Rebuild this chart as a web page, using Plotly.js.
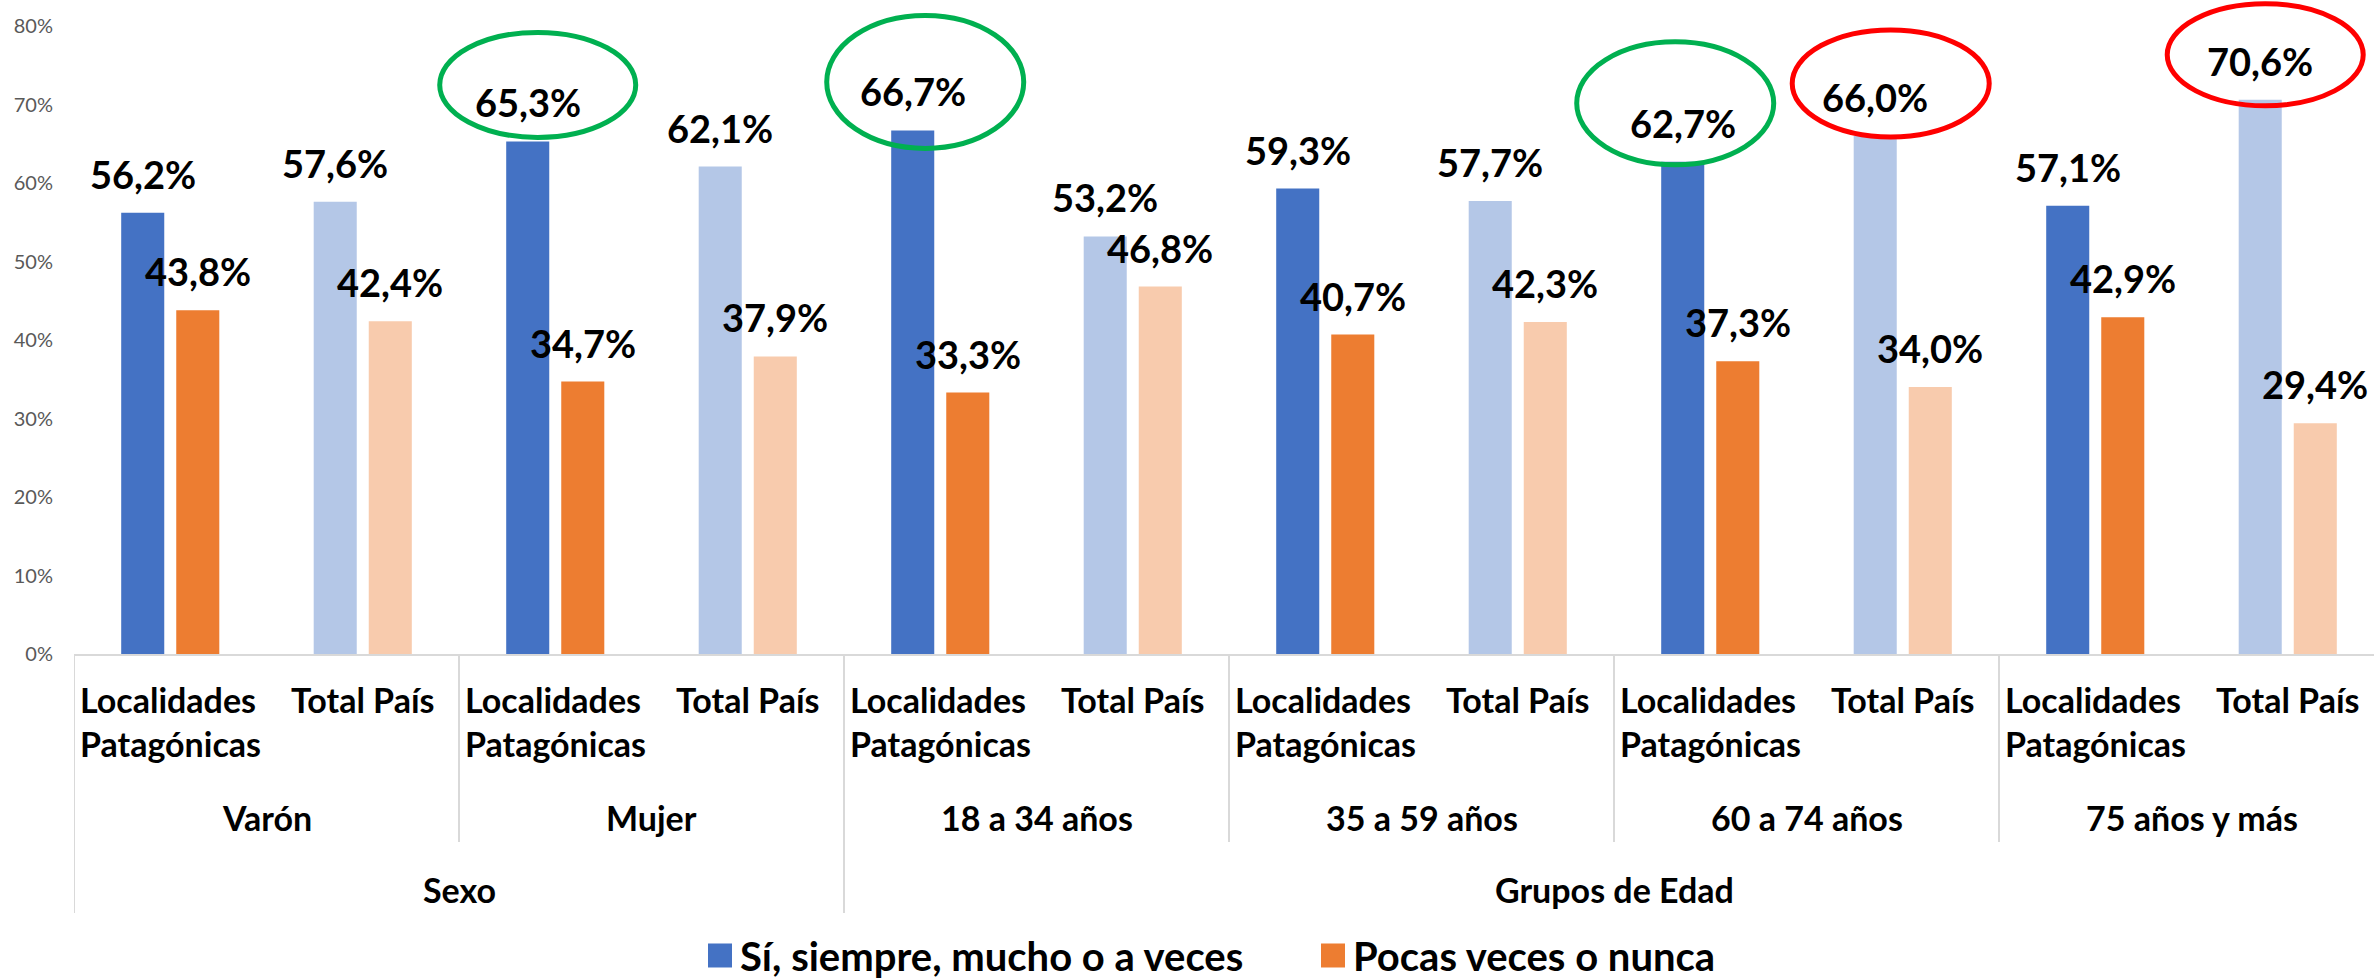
<!DOCTYPE html>
<html>
<head>
<meta charset="utf-8">
<script src="https://cdn.plot.ly/plotly-3.0.1.min.js"></script>
<style>
html, body { margin: 0; padding: 0; overflow: hidden; background: #ffffff; }
#chart { width: 2400px; height: 980px; }
</style>
</head>
<body>
<div id="chart"></div>
<script>
// ---------------- data ----------------
const subCategories = [
  'Localidades<br>Patagónicas', 'Total País',
  'Localidades<br>Patagónicas', 'Total País',
  'Localidades<br>Patagónicas', 'Total País',
  'Localidades<br>Patagónicas', 'Total País',
  'Localidades<br>Patagónicas', 'Total País',
  'Localidades<br>Patagónicas', 'Total País'
];
const groups = ['Varón', 'Mujer', '18 a 34 años', '35 a 59 años', '60 a 74 años', '75 años y más'];
const sections = ['Sexo', 'Grupos de Edad'];
const sectionGroupCounts = [2, 4];
const seriesNames = ['Sí, siempre, mucho o a veces', 'Pocas veces o nunca'];
const siValues    = [56.2, 57.6, 65.3, 62.1, 66.7, 53.2, 59.3, 57.7, 62.7, 66.0, 57.1, 70.6];
const pocasValues = [43.8, 42.4, 34.7, 37.9, 33.3, 46.8, 40.7, 42.3, 37.3, 34.0, 42.9, 29.4];
const yTickValues = [0, 10, 20, 30, 40, 50, 60, 70, 80];

// ---------------- styles ----------------
const FONT = 'Lato, "Open Sans", sans-serif';
const siColorPair = ['#4472C4', '#B4C7E7'];
const pocasColorPair = ['#ED7D31', '#F8CBAD'];
const BARGAP = 0.428, BARGROUPGAP = 0.218;
// highlighted labels: series index, category index, colour, ellipse box in px relative to bar centre / bar top
const highlights = [
  {s: 0, i: 2,  color: '#00B050', box: [-88, 108, 4, 109]},
  {s: 0, i: 4,  color: '#00B050', box: [-86, 111, -18, 115]},
  {s: 0, i: 8,  color: '#00B050', box: [-106, 91, -3, 120]},
  {s: 0, i: 9,  color: '#FF0000', box: [-83, 114, -1, 106]},
  {s: 0, i: 11, color: '#FF0000', box: [-93, 103, -6, 96]}
];

const xs = subCategories.map((_, i) => i);
const fmt = v => v.toFixed(1).replace('.', ',') + '%';
const seriesValues = [siValues, pocasValues];
const slot = (1 - BARGAP) / 2;
const seriesOffset = [-slot / 2, slot / 2];

const traces = [
  {
    type: 'bar', name: seriesNames[0], x: xs, y: siValues,
    marker: {color: xs.map(i => siColorPair[i % 2]), line: {width: 0}},
    hoverinfo: 'y'
  },
  {
    type: 'bar', name: seriesNames[1], x: xs, y: pocasValues,
    marker: {color: xs.map(i => pocasColorPair[i % 2]), line: {width: 0}},
    hoverinfo: 'y'
  }
];

const annotations = [];
// data labels
seriesValues.forEach((vals, s) => {
  vals.forEach((v, i) => {
    annotations.push({
      xref: 'x', yref: 'y', x: i + seriesOffset[s], y: v,
      text: fmt(v), showarrow: false, xanchor: 'center', yanchor: 'bottom', yshift: 14,
      font: {family: FONT, size: 38, color: '#000000', weight: 700}
    });
  });
});
// level 1 labels
subCategories.forEach((t, i) => {
  annotations.push({
    xref: 'x', yref: 'paper', x: i, y: 0, yanchor: 'top', yshift: -23,
    text: t, showarrow: false, align: 'left',
    font: {family: FONT, size: 34, color: '#000000', weight: 700}
  });
});
// level 2 labels
groups.forEach((t, k) => {
  annotations.push({
    xref: 'x', yref: 'paper', x: 2 * k + 0.5, y: 0, yanchor: 'top', yshift: -141,
    text: t, showarrow: false,
    font: {family: FONT, size: 34, color: '#000000', weight: 700}
  });
});
// level 3 labels
let startGroup = 0;
sections.forEach((t, j) => {
  const first = startGroup * 2, last = (startGroup + sectionGroupCounts[j]) * 2 - 1;
  annotations.push({
    xref: 'x', yref: 'paper', x: (first + last) / 2, y: 0, yanchor: 'top', yshift: -213,
    text: t, showarrow: false,
    font: {family: FONT, size: 34, color: '#000000', weight: 700}
  });
  startGroup += sectionGroupCounts[j];
});

// dividers
const shapes = [];
const sectionBounds = [0];
sectionGroupCounts.reduce((acc, c) => { sectionBounds.push(acc + c); return acc + c; }, 0);
for (let k = 0; k <= groups.length; k++) {
  const isSection = sectionBounds.includes(k);
  shapes.push({
    type: 'line', xref: 'x', yref: 'paper', x0: 2 * k - 0.5, x1: 2 * k - 0.5,
    ysizemode: 'pixel', yanchor: 0, y0: 0, y1: isSection ? -259 : -188,
    line: {color: '#D9D9D9', width: 2}
  });
}
// highlight ellipses
highlights.forEach(h => {
  shapes.push({
    type: 'circle', xref: 'x', yref: 'y',
    xsizemode: 'pixel', xanchor: h.i + seriesOffset[h.s], x0: h.box[0], x1: h.box[1],
    ysizemode: 'pixel', yanchor: seriesValues[h.s][h.i], y0: h.box[2], y1: h.box[3],
    line: {color: h.color, width: 5}, fillcolor: 'rgba(0,0,0,0)'
  });
});

// plot area: 80% tick sits 628 px above the 0% line; the area extends up to the top edge
const PLOT_H = 654, TICK_SPAN = 628;
const layout = {
  width: 2400, height: 980,
  margin: {l: 74, r: 16, t: 0, b: 326, autoexpand: false},
  paper_bgcolor: '#ffffff', plot_bgcolor: '#ffffff',
  barmode: 'group', bargap: BARGAP, bargroupgap: BARGROUPGAP,
  showlegend: true,
  legend: {
    orientation: 'h', x: 0.271, xanchor: 'left', y: -0.461, yanchor: 'middle',
    font: {family: FONT, size: 40, color: '#000000', weight: 700},
    entrywidth: 568, entrywidthmode: 'pixels', traceorder: 'normal'
  },
  xaxis: {
    range: [-0.5, 11.5], showticklabels: false, showgrid: false, zeroline: false,
    showline: true, linecolor: '#D9D9D9', linewidth: 2, ticks: '', fixedrange: true
  },
  yaxis: {
    range: [0, 80 * PLOT_H / TICK_SPAN], tickvals: yTickValues, ticktext: yTickValues.map(v => v + '%'),
    showgrid: false, zeroline: false, showline: false, ticks: '',
    ticklabelstandoff: 20,
    tickfont: {family: FONT, size: 20, color: '#595959'}, fixedrange: true
  },
  annotations: annotations,
  shapes: shapes
};

Plotly.newPlot('chart', traces, layout, {displayModeBar: false, staticPlot: true}).then(gd => {
  // enlarge the legend swatches to match the reference's square keys
  gd.querySelectorAll('.legendpoints path').forEach(p => p.setAttribute('d', 'M12,12H-12V-12H12Z'));
});
</script>
</body>
</html>
